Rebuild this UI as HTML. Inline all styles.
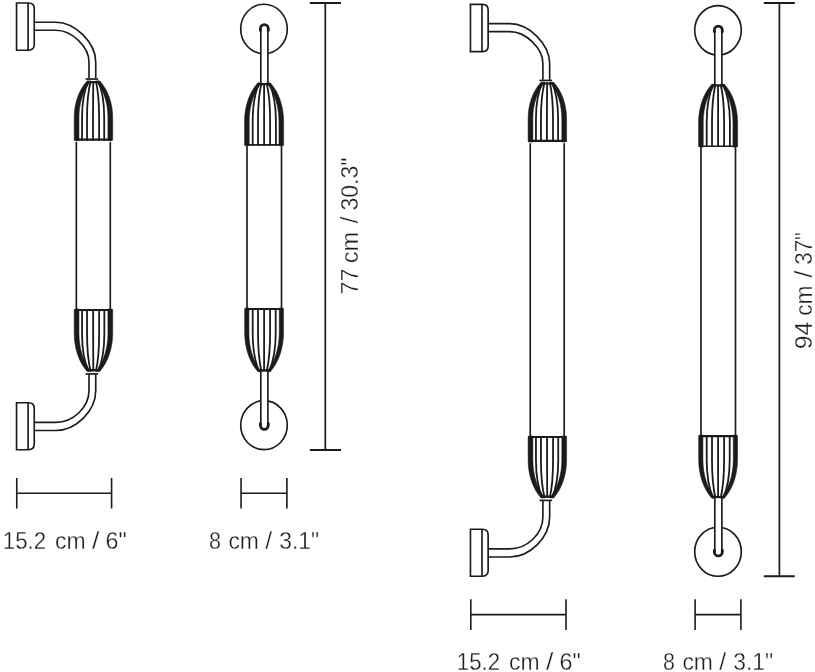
<!DOCTYPE html>
<html>
<head>
<meta charset="utf-8">
<title>Lamp dimensions</title>
<style>
html,body{margin:0;padding:0;background:#ffffff;}
body{width:815px;height:672px;overflow:hidden;font-family:"Liberation Sans",sans-serif;}
svg{display:block;filter:grayscale(1);}
</style>
</head>
<body>
<svg width="815" height="672" viewBox="0 0 815 672">
<rect width="815" height="672" fill="#ffffff"/>
<g transform="translate(0,0)">
<path d="M16.55,2.95 H28.6 Q34.25,2.95 34.25,8.6 V44.6 Q34.25,50.25 28.6,50.25 H16.55 Z" fill="none" stroke="#1b1b1b" stroke-width="1.65" stroke-linejoin="miter"/>
<path d="M28.1,2.95 V50.25" fill="none" stroke="#1b1b1b" stroke-width="1.65"/>
<path d="M34.6,22.2 H55.8 C75.18,22.2 95.75,42.8 95.75,62.2 V78.3" fill="none" stroke="#1b1b1b" stroke-width="1.65"/>
<path d="M34.6,30.25 H55.8 C71.9,30.25 89,46.7 89,62.2 V78.3" fill="none" stroke="#1b1b1b" stroke-width="1.65"/>
<path d="M85.6,79.05 H98.2" stroke="#1b1b1b" stroke-width="1.7"/>
<path d="M75.6,140.7 Q74.2,140.7 74.2,139.3 V117.28 C74.2,103.45 78.86,89.63 87.15,80.9 L90.99,80.9 C83.32,89.63 79,103.45 79,117.28 V140.7 Z" fill="#1b1b1b" stroke="#1b1b1b" stroke-width="0.5" stroke-linejoin="round"/>
<path d="M111.3,140.7 Q112.7,140.7 112.7,139.3 V117.28 C112.7,103.45 108.04,89.63 99.75,80.9 L95.91,80.9 C103.58,89.63 107.9,103.45 107.9,117.28 V140.7 Z" fill="#1b1b1b" stroke="#1b1b1b" stroke-width="0.5" stroke-linejoin="round"/>
<path d="M82.05,140.7 V117.28 C82.05,103.45 84.43,89.63 88.66,80.9" fill="none" stroke="#1b1b1b" stroke-width="1.8"/>
<path d="M87.05,140.7 V117.28 C87.05,103.45 88.39,89.63 90.76,80.9" fill="none" stroke="#1b1b1b" stroke-width="1.8"/>
<path d="M93,140.7 V117.28 C93,103.45 93.09,89.63 93.26,80.9" fill="none" stroke="#1b1b1b" stroke-width="1.8"/>
<path d="M99.1,140.7 V117.28 C99.1,103.45 97.92,89.63 95.82,80.9" fill="none" stroke="#1b1b1b" stroke-width="1.8"/>
<path d="M104.2,140.7 V117.28 C104.2,103.45 101.96,89.63 97.97,80.9" fill="none" stroke="#1b1b1b" stroke-width="1.8"/>
<path d="M87.45,82.15 H99.45" stroke="#1b1b1b" stroke-width="2.1" stroke-linecap="round"/>
<path d="M75.45,139.55 H111.45" stroke="#1b1b1b" stroke-width="2.3" stroke-linecap="round"/>
</g>
<g transform="translate(0,0)">
<path d="M16.55,449.75 H28.6 Q34.25,449.75 34.25,444.1 V408.4 Q34.25,402.75 28.6,402.75 H16.55 Z" fill="none" stroke="#1b1b1b" stroke-width="1.65" stroke-linejoin="miter"/>
<path d="M28.1,402.75 V449.75" fill="none" stroke="#1b1b1b" stroke-width="1.65"/>
<path d="M34.6,430.5 H55.8 C76.17,430.5 95.75,410.9 95.75,390.5 V374.6" fill="none" stroke="#1b1b1b" stroke-width="1.65"/>
<path d="M34.6,422.4 H55.8 C73.23,422.4 89,407.25 89,390.5 V374.6" fill="none" stroke="#1b1b1b" stroke-width="1.65"/>
<path d="M85.6,373.9 H98.2" stroke="#1b1b1b" stroke-width="1.7"/>
<path d="M75.6,308.95 Q74.2,308.95 74.2,310.35 V333.41 C74.2,347.85 78.86,362.28 87.15,371.4 L90.99,371.4 C83.32,362.28 79,347.85 79,333.41 V308.95 Z" fill="#1b1b1b" stroke="#1b1b1b" stroke-width="0.5" stroke-linejoin="round"/>
<path d="M111.3,308.95 Q112.7,308.95 112.7,310.35 V333.41 C112.7,347.85 108.04,362.28 99.75,371.4 L95.91,371.4 C103.58,362.28 107.9,347.85 107.9,333.41 V308.95 Z" fill="#1b1b1b" stroke="#1b1b1b" stroke-width="0.5" stroke-linejoin="round"/>
<path d="M82.05,308.95 V333.41 C82.05,347.85 84.43,362.28 88.66,371.4" fill="none" stroke="#1b1b1b" stroke-width="1.8"/>
<path d="M87.05,308.95 V333.41 C87.05,347.85 88.39,362.28 90.76,371.4" fill="none" stroke="#1b1b1b" stroke-width="1.8"/>
<path d="M93.15,308.95 V333.41 C93.15,347.85 93.21,362.28 93.32,371.4" fill="none" stroke="#1b1b1b" stroke-width="1.8"/>
<path d="M99.15,308.95 V333.41 C99.15,347.85 97.96,362.28 95.84,371.4" fill="none" stroke="#1b1b1b" stroke-width="1.8"/>
<path d="M104.35,308.95 V333.41 C104.35,347.85 102.07,362.28 98.03,371.4" fill="none" stroke="#1b1b1b" stroke-width="1.8"/>
<path d="M87.45,370.15 H99.45" stroke="#1b1b1b" stroke-width="2.1" stroke-linecap="round"/>
<path d="M75.27,309.93 H111.63" stroke="#1b1b1b" stroke-width="1.95" stroke-linecap="round"/>
</g>
<path d="M76.35,141.9 V309.2 M110.3,141.9 V309.2" fill="none" stroke="#1b1b1b" stroke-width="1.65"/>
<g transform="translate(0,0)">
<ellipse cx="264" cy="28.95" rx="23.3" ry="24.75" fill="none" stroke="#1b1b1b" stroke-width="1.65"/>
<rect x="260.8" y="28.6" width="7.1" height="54.5" fill="#fff"/>
<path d="M260.4,30.4 V28.65 A3.95,3.95 0 0 1 268.3,28.65 V30.4" fill="none" stroke="#1b1b1b" stroke-width="2.8" stroke-linecap="round"/>
<path d="M260.8,29 V83.2 M267.9,29 V83.2" fill="none" stroke="#1b1b1b" stroke-width="1.65"/>
<path d="M245.95,145.7 Q244.55,145.7 244.55,144.3 V121.1 C244.55,106.59 249.32,92.07 257.8,82.9 L261.56,82.9 C253.68,92.07 249.25,106.59 249.25,121.1 V145.7 Z" fill="#1b1b1b" stroke="#1b1b1b" stroke-width="0.5" stroke-linejoin="round"/>
<path d="M282.25,145.7 Q283.65,145.7 283.65,144.3 V121.1 C283.65,106.59 278.88,92.07 270.4,82.9 L266.64,82.9 C274.52,92.07 278.95,106.59 278.95,121.1 V145.7 Z" fill="#1b1b1b" stroke="#1b1b1b" stroke-width="0.5" stroke-linejoin="round"/>
<path d="M252.7,145.7 V121.1 C252.7,106.59 255.08,92.07 259.31,82.9" fill="none" stroke="#1b1b1b" stroke-width="1.8"/>
<path d="M258,145.7 V121.1 C258,106.59 259.27,92.07 261.54,82.9" fill="none" stroke="#1b1b1b" stroke-width="1.8"/>
<path d="M264.1,145.7 V121.1 C264.1,106.59 264.1,92.07 264.1,82.9" fill="none" stroke="#1b1b1b" stroke-width="1.8"/>
<path d="M270.1,145.7 V121.1 C270.1,106.59 268.85,92.07 266.62,82.9" fill="none" stroke="#1b1b1b" stroke-width="1.8"/>
<path d="M275.9,145.7 V121.1 C275.9,106.59 273.44,92.07 269.06,82.9" fill="none" stroke="#1b1b1b" stroke-width="1.8"/>
<path d="M258.1,84.15 H270.1" stroke="#1b1b1b" stroke-width="2.1" stroke-linecap="round"/>
<path d="M245.5,144.85 H282.7" stroke="#1b1b1b" stroke-width="1.7" stroke-linecap="round"/>
</g>
<g transform="translate(0,0)">
<ellipse cx="264" cy="425.15" rx="23.3" ry="24.5" fill="none" stroke="#1b1b1b" stroke-width="1.65"/>
<rect x="260.8" y="371" width="7.1" height="54.6" fill="#fff"/>
<path d="M260.4,423.6 V425.35 A3.95,3.95 0 0 0 268.3,425.35 V423.6" fill="none" stroke="#1b1b1b" stroke-width="2.8" stroke-linecap="round"/>
<path d="M260.8,371.2 V425.4 M267.9,371.2 V425.4" fill="none" stroke="#1b1b1b" stroke-width="1.65"/>
<path d="M246.05,307.9 Q244.65,307.9 244.65,309.3 V332.85 C244.65,347.57 249.38,362.3 257.8,371.6 L261.24,371.6 C253.37,362.3 248.95,347.57 248.95,332.85 V307.9 Z" fill="#1b1b1b" stroke="#1b1b1b" stroke-width="0.5" stroke-linejoin="round"/>
<path d="M282.15,307.9 Q283.55,307.9 283.55,309.3 V332.85 C283.55,347.57 278.82,362.3 270.4,371.6 L266.96,371.6 C274.83,362.3 279.25,347.57 279.25,332.85 V307.9 Z" fill="#1b1b1b" stroke="#1b1b1b" stroke-width="0.5" stroke-linejoin="round"/>
<path d="M252.7,307.9 V332.85 C252.7,347.57 255.08,362.3 259.31,371.6" fill="none" stroke="#1b1b1b" stroke-width="1.8"/>
<path d="M258,307.9 V332.85 C258,347.57 259.27,362.3 261.54,371.6" fill="none" stroke="#1b1b1b" stroke-width="1.8"/>
<path d="M264.1,307.9 V332.85 C264.1,347.57 264.1,362.3 264.1,371.6" fill="none" stroke="#1b1b1b" stroke-width="1.8"/>
<path d="M270.1,307.9 V332.85 C270.1,347.57 268.85,362.3 266.62,371.6" fill="none" stroke="#1b1b1b" stroke-width="1.8"/>
<path d="M275.7,307.9 V332.85 C275.7,347.57 273.28,362.3 268.97,371.6" fill="none" stroke="#1b1b1b" stroke-width="1.8"/>
<path d="M258.1,370.35 H270.1" stroke="#1b1b1b" stroke-width="2.1" stroke-linecap="round"/>
<path d="M245.85,309 H282.35" stroke="#1b1b1b" stroke-width="2.2" stroke-linecap="round"/>
</g>
<path d="M247,145.2 V308.4 M281.5,145.2 V308.4" fill="none" stroke="#1b1b1b" stroke-width="1.65"/>
<g transform="translate(453.9,1.4)">
<path d="M16.55,2.95 H28.6 Q34.25,2.95 34.25,8.6 V44.6 Q34.25,50.25 28.6,50.25 H16.55 Z" fill="none" stroke="#1b1b1b" stroke-width="1.65" stroke-linejoin="miter"/>
<path d="M28.1,2.95 V50.25" fill="none" stroke="#1b1b1b" stroke-width="1.65"/>
<path d="M34.6,22.2 H55.8 C75.18,22.2 95.75,42.8 95.75,62.2 V78.3" fill="none" stroke="#1b1b1b" stroke-width="1.65"/>
<path d="M34.6,30.25 H55.8 C71.9,30.25 89,46.7 89,62.2 V78.3" fill="none" stroke="#1b1b1b" stroke-width="1.65"/>
<path d="M85.6,79.05 H98.2" stroke="#1b1b1b" stroke-width="1.7"/>
<path d="M75.6,140.7 Q74.2,140.7 74.2,139.3 V117.28 C74.2,103.45 78.86,89.63 87.15,80.9 L90.99,80.9 C83.32,89.63 79,103.45 79,117.28 V140.7 Z" fill="#1b1b1b" stroke="#1b1b1b" stroke-width="0.5" stroke-linejoin="round"/>
<path d="M111.3,140.7 Q112.7,140.7 112.7,139.3 V117.28 C112.7,103.45 108.04,89.63 99.75,80.9 L95.91,80.9 C103.58,89.63 107.9,103.45 107.9,117.28 V140.7 Z" fill="#1b1b1b" stroke="#1b1b1b" stroke-width="0.5" stroke-linejoin="round"/>
<path d="M82.05,140.7 V117.28 C82.05,103.45 84.43,89.63 88.66,80.9" fill="none" stroke="#1b1b1b" stroke-width="1.8"/>
<path d="M87.05,140.7 V117.28 C87.05,103.45 88.39,89.63 90.76,80.9" fill="none" stroke="#1b1b1b" stroke-width="1.8"/>
<path d="M93,140.7 V117.28 C93,103.45 93.09,89.63 93.26,80.9" fill="none" stroke="#1b1b1b" stroke-width="1.8"/>
<path d="M99.1,140.7 V117.28 C99.1,103.45 97.92,89.63 95.82,80.9" fill="none" stroke="#1b1b1b" stroke-width="1.8"/>
<path d="M104.2,140.7 V117.28 C104.2,103.45 101.96,89.63 97.97,80.9" fill="none" stroke="#1b1b1b" stroke-width="1.8"/>
<path d="M87.45,82.15 H99.45" stroke="#1b1b1b" stroke-width="2.1" stroke-linecap="round"/>
<path d="M75.45,139.55 H111.45" stroke="#1b1b1b" stroke-width="2.3" stroke-linecap="round"/>
</g>
<g transform="translate(453.9,126.5)">
<path d="M16.55,449.75 H28.6 Q34.25,449.75 34.25,444.1 V408.4 Q34.25,402.75 28.6,402.75 H16.55 Z" fill="none" stroke="#1b1b1b" stroke-width="1.65" stroke-linejoin="miter"/>
<path d="M28.1,402.75 V449.75" fill="none" stroke="#1b1b1b" stroke-width="1.65"/>
<path d="M34.6,430.5 H55.8 C76.17,430.5 95.75,410.9 95.75,390.5 V374.6" fill="none" stroke="#1b1b1b" stroke-width="1.65"/>
<path d="M34.6,422.4 H55.8 C73.23,422.4 89,407.25 89,390.5 V374.6" fill="none" stroke="#1b1b1b" stroke-width="1.65"/>
<path d="M85.6,373.9 H98.2" stroke="#1b1b1b" stroke-width="1.7"/>
<path d="M75.6,309.45 Q74.2,309.45 74.2,310.85 V333.71 C74.2,348.03 78.86,362.36 87.15,371.4 L90.99,371.4 C83.32,362.36 79,348.03 79,333.71 V309.45 Z" fill="#1b1b1b" stroke="#1b1b1b" stroke-width="0.5" stroke-linejoin="round"/>
<path d="M111.3,309.45 Q112.7,309.45 112.7,310.85 V333.71 C112.7,348.03 108.04,362.36 99.75,371.4 L95.91,371.4 C103.58,362.36 107.9,348.03 107.9,333.71 V309.45 Z" fill="#1b1b1b" stroke="#1b1b1b" stroke-width="0.5" stroke-linejoin="round"/>
<path d="M82.05,309.45 V333.71 C82.05,348.03 84.43,362.36 88.66,371.4" fill="none" stroke="#1b1b1b" stroke-width="1.8"/>
<path d="M87.05,309.45 V333.71 C87.05,348.03 88.39,362.36 90.76,371.4" fill="none" stroke="#1b1b1b" stroke-width="1.8"/>
<path d="M93.15,309.45 V333.71 C93.15,348.03 93.21,362.36 93.32,371.4" fill="none" stroke="#1b1b1b" stroke-width="1.8"/>
<path d="M99.15,309.45 V333.71 C99.15,348.03 97.96,362.36 95.84,371.4" fill="none" stroke="#1b1b1b" stroke-width="1.8"/>
<path d="M104.35,309.45 V333.71 C104.35,348.03 102.07,362.36 98.03,371.4" fill="none" stroke="#1b1b1b" stroke-width="1.8"/>
<path d="M87.45,370.15 H99.45" stroke="#1b1b1b" stroke-width="2.1" stroke-linecap="round"/>
<path d="M75.27,310.43 H111.63" stroke="#1b1b1b" stroke-width="1.95" stroke-linecap="round"/>
</g>
<path d="M530.25,143.3 V436.2 M564.2,143.3 V436.2" fill="none" stroke="#1b1b1b" stroke-width="1.65"/>
<g transform="translate(454,1.4)">
<ellipse cx="264" cy="28.95" rx="23.3" ry="24.75" fill="none" stroke="#1b1b1b" stroke-width="1.65"/>
<rect x="260.8" y="28.6" width="7.1" height="54.5" fill="#fff"/>
<path d="M260.4,30.4 V28.65 A3.95,3.95 0 0 1 268.3,28.65 V30.4" fill="none" stroke="#1b1b1b" stroke-width="2.8" stroke-linecap="round"/>
<path d="M260.8,29 V83.2 M267.9,29 V83.2" fill="none" stroke="#1b1b1b" stroke-width="1.65"/>
<path d="M245.95,145.7 Q244.55,145.7 244.55,144.3 V121.1 C244.55,106.59 249.32,92.07 257.8,82.9 L261.56,82.9 C253.68,92.07 249.25,106.59 249.25,121.1 V145.7 Z" fill="#1b1b1b" stroke="#1b1b1b" stroke-width="0.5" stroke-linejoin="round"/>
<path d="M282.25,145.7 Q283.65,145.7 283.65,144.3 V121.1 C283.65,106.59 278.88,92.07 270.4,82.9 L266.64,82.9 C274.52,92.07 278.95,106.59 278.95,121.1 V145.7 Z" fill="#1b1b1b" stroke="#1b1b1b" stroke-width="0.5" stroke-linejoin="round"/>
<path d="M252.7,145.7 V121.1 C252.7,106.59 255.08,92.07 259.31,82.9" fill="none" stroke="#1b1b1b" stroke-width="1.8"/>
<path d="M258,145.7 V121.1 C258,106.59 259.27,92.07 261.54,82.9" fill="none" stroke="#1b1b1b" stroke-width="1.8"/>
<path d="M264.1,145.7 V121.1 C264.1,106.59 264.1,92.07 264.1,82.9" fill="none" stroke="#1b1b1b" stroke-width="1.8"/>
<path d="M270.1,145.7 V121.1 C270.1,106.59 268.85,92.07 266.62,82.9" fill="none" stroke="#1b1b1b" stroke-width="1.8"/>
<path d="M275.9,145.7 V121.1 C275.9,106.59 273.44,92.07 269.06,82.9" fill="none" stroke="#1b1b1b" stroke-width="1.8"/>
<path d="M258.1,84.15 H270.1" stroke="#1b1b1b" stroke-width="2.1" stroke-linecap="round"/>
<path d="M245.5,144.85 H282.7" stroke="#1b1b1b" stroke-width="1.7" stroke-linecap="round"/>
</g>
<g transform="translate(454,126.6)">
<ellipse cx="264" cy="425.15" rx="23.3" ry="24.5" fill="none" stroke="#1b1b1b" stroke-width="1.65"/>
<rect x="260.8" y="371" width="7.1" height="54.6" fill="#fff"/>
<path d="M260.4,423.6 V425.35 A3.95,3.95 0 0 0 268.3,425.35 V423.6" fill="none" stroke="#1b1b1b" stroke-width="2.8" stroke-linecap="round"/>
<path d="M260.8,371.2 V425.4 M267.9,371.2 V425.4" fill="none" stroke="#1b1b1b" stroke-width="1.65"/>
<path d="M246.05,308.4 Q244.65,308.4 244.65,309.8 V333.15 C244.65,347.76 249.38,362.37 257.8,371.6 L261.24,371.6 C253.37,362.37 248.95,347.76 248.95,333.15 V308.4 Z" fill="#1b1b1b" stroke="#1b1b1b" stroke-width="0.5" stroke-linejoin="round"/>
<path d="M282.15,308.4 Q283.55,308.4 283.55,309.8 V333.15 C283.55,347.76 278.82,362.37 270.4,371.6 L266.96,371.6 C274.83,362.37 279.25,347.76 279.25,333.15 V308.4 Z" fill="#1b1b1b" stroke="#1b1b1b" stroke-width="0.5" stroke-linejoin="round"/>
<path d="M252.7,308.4 V333.15 C252.7,347.76 255.08,362.37 259.31,371.6" fill="none" stroke="#1b1b1b" stroke-width="1.8"/>
<path d="M258,308.4 V333.15 C258,347.76 259.27,362.37 261.54,371.6" fill="none" stroke="#1b1b1b" stroke-width="1.8"/>
<path d="M264.1,308.4 V333.15 C264.1,347.76 264.1,362.37 264.1,371.6" fill="none" stroke="#1b1b1b" stroke-width="1.8"/>
<path d="M270.1,308.4 V333.15 C270.1,347.76 268.85,362.37 266.62,371.6" fill="none" stroke="#1b1b1b" stroke-width="1.8"/>
<path d="M275.7,308.4 V333.15 C275.7,347.76 273.28,362.37 268.97,371.6" fill="none" stroke="#1b1b1b" stroke-width="1.8"/>
<path d="M258.1,370.35 H270.1" stroke="#1b1b1b" stroke-width="2.1" stroke-linecap="round"/>
<path d="M245.85,309.5 H282.35" stroke="#1b1b1b" stroke-width="2.2" stroke-linecap="round"/>
</g>
<path d="M701,146.6 V435.5 M735.5,146.6 V435.5" fill="none" stroke="#1b1b1b" stroke-width="1.65"/>
<path d="M309.8,2.9 H341 M309.8,449.9 H341" fill="none" stroke="#1b1b1b" stroke-width="1.95"/><path d="M325.3,2.9 V449.9" fill="none" stroke="#1b1b1b" stroke-width="1.7"/>
<path d="M763.8,2.95 H794.8 M763.8,576.3 H794.8" fill="none" stroke="#1b1b1b" stroke-width="1.95"/><path d="M779.4,2.95 V576.3" fill="none" stroke="#1b1b1b" stroke-width="1.7"/>
<path d="M16.75,478 V508.6 M111.6,478 V508.6 M16.75,493.3 H111.6" fill="none" stroke="#1b1b1b" stroke-width="1.6"/>
<path d="M241.05,478 V508.6 M286.9,478 V508.6 M241.05,493.3 H286.9" fill="none" stroke="#1b1b1b" stroke-width="1.6"/>
<path d="M470.8,599.3 V629.9 M566,599.3 V629.9 M470.8,614.6 H566" fill="none" stroke="#1b1b1b" stroke-width="1.6"/>
<path d="M695.1,599.3 V629.9 M740.9,599.3 V629.9 M695.1,614.6 H740.9" fill="none" stroke="#1b1b1b" stroke-width="1.6"/>
<g font-family="'Liberation Sans', sans-serif" font-size="23.5" fill="#1e1e1e" stroke="#ffffff" stroke-width="0.3">
<text y="548.75"><tspan x="2.83" textLength="43.31" lengthAdjust="spacingAndGlyphs">15.2</tspan> <tspan x="55.02" textLength="30.56" lengthAdjust="spacingAndGlyphs">cm</tspan> <tspan x="92.08" textLength="7.38" lengthAdjust="spacingAndGlyphs">/</tspan> <tspan x="105.45" textLength="21.26" lengthAdjust="spacingAndGlyphs">6&quot;</tspan></text>
<text y="548.75"><tspan x="209.07" textLength="11.95" lengthAdjust="spacingAndGlyphs">8</tspan> <tspan x="228.42" textLength="30.5" lengthAdjust="spacingAndGlyphs">cm</tspan> <tspan x="265.17" textLength="6.88" lengthAdjust="spacingAndGlyphs">/</tspan> <tspan x="279.19" textLength="39.99" lengthAdjust="spacingAndGlyphs">3.1&quot;</tspan></text>
<text y="669.9"><tspan x="456.83" textLength="43.31" lengthAdjust="spacingAndGlyphs">15.2</tspan> <tspan x="509.02" textLength="30.56" lengthAdjust="spacingAndGlyphs">cm</tspan> <tspan x="546.08" textLength="7.38" lengthAdjust="spacingAndGlyphs">/</tspan> <tspan x="559.45" textLength="21.26" lengthAdjust="spacingAndGlyphs">6&quot;</tspan></text>
<text y="669.9"><tspan x="663.07" textLength="11.95" lengthAdjust="spacingAndGlyphs">8</tspan> <tspan x="682.42" textLength="30.5" lengthAdjust="spacingAndGlyphs">cm</tspan> <tspan x="719.17" textLength="6.88" lengthAdjust="spacingAndGlyphs">/</tspan> <tspan x="733.19" textLength="39.99" lengthAdjust="spacingAndGlyphs">3.1&quot;</tspan></text>
<text y="0" transform="translate(357.7,293.6) rotate(-90)"><tspan x="-0.95" textLength="25.98" lengthAdjust="spacingAndGlyphs">77</tspan> <tspan x="30.39" textLength="31.47" lengthAdjust="spacingAndGlyphs">cm</tspan> <tspan x="70.07" textLength="6.98" lengthAdjust="spacingAndGlyphs">/</tspan> <tspan x="83.09" textLength="52.97" lengthAdjust="spacingAndGlyphs">30.3&quot;</tspan></text>
<text y="0" transform="translate(812,348.2) rotate(-90)"><tspan x="-0.98" textLength="27.56" lengthAdjust="spacingAndGlyphs">94</tspan> <tspan x="32.42" textLength="30.4" lengthAdjust="spacingAndGlyphs">cm</tspan> <tspan x="70.47" textLength="7.18" lengthAdjust="spacingAndGlyphs">/</tspan> <tspan x="83.41" textLength="32.79" lengthAdjust="spacingAndGlyphs">37&quot;</tspan></text>
</g>
</svg>
</body>
</html>
